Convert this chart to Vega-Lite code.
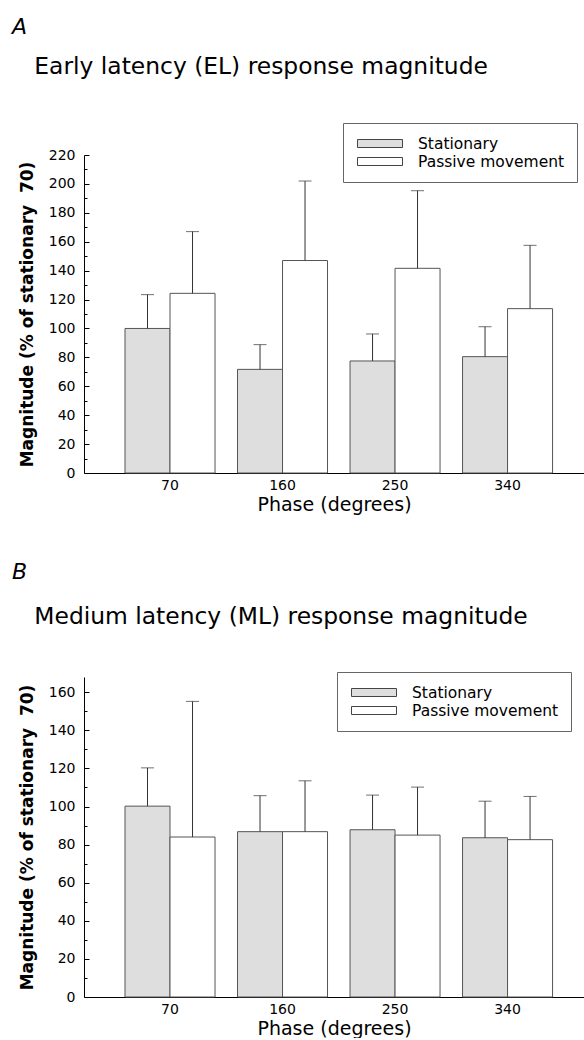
{
  "$schema": "https://vega.github.io/schema/vega-lite/v6.json",
  "padding": {"left": 12, "top": 16, "right": 0, "bottom": 0},
  "background": "white",
  "config": {
    "font": "DejaVu Sans",
    "view": {"stroke": null},
    "axis": {"grid": false, "domainColor": "#000", "tickColor": "#000", "labelColor": "#000", "titleColor": "#000", "labelFont": "DejaVu Sans", "titleFont": "DejaVu Sans", "titleFontWeight": "normal"},
    "legend": {"labelFont": "DejaVu Sans", "labelColor": "#000"}
  },
  "datasets": {
    "A": [
      {"phase": "70", "condition": "Stationary", "value": 100, "err": 123.4},
      {"phase": "70", "condition": "Passive movement", "value": 124.3, "err": 167},
      {"phase": "160", "condition": "Stationary", "value": 71.7, "err": 88.8},
      {"phase": "160", "condition": "Passive movement", "value": 147, "err": 202},
      {"phase": "250", "condition": "Stationary", "value": 77.5, "err": 96.2},
      {"phase": "250", "condition": "Passive movement", "value": 141.6, "err": 195.3},
      {"phase": "340", "condition": "Stationary", "value": 80.5, "err": 101.2},
      {"phase": "340", "condition": "Passive movement", "value": 113.7, "err": 157.5}
    ],
    "B": [
      {"phase": "70", "condition": "Stationary", "value": 100.2, "err": 120.3},
      {"phase": "70", "condition": "Passive movement", "value": 84, "err": 155.2},
      {"phase": "160", "condition": "Stationary", "value": 86.8, "err": 105.7},
      {"phase": "160", "condition": "Passive movement", "value": 86.8, "err": 113.5},
      {"phase": "250", "condition": "Stationary", "value": 87.8, "err": 106},
      {"phase": "250", "condition": "Passive movement", "value": 85, "err": 110.2},
      {"phase": "340", "condition": "Stationary", "value": 83.6, "err": 102.8},
      {"phase": "340", "condition": "Passive movement", "value": 82.6, "err": 105.3}
    ]
  },
  "spacing": 47,
  "resolve": {
    "scale": {"x": "independent", "xOffset": "independent", "y": "independent", "fill": "independent"},
    "legend": {"fill": "independent"}
  },
  "vconcat": [
    {
      "width": 500,
      "height": 318,
      "title": {"text": "A", "subtitle": "\u200b\u00a0\u00a0\u00a0Early latency (EL) response magnitude", "anchor": "start", "frame": "group", "dx": -72, "offset": 43, "font": "DejaVu Sans", "fontSize": 22, "fontStyle": "italic", "fontWeight": "normal", "color": "#000", "subtitleFont": "DejaVu Sans", "subtitleFontSize": 23.4, "subtitleColor": "#000", "subtitlePadding": 17},
      "data": {"name": "A"},
      "encoding": {
        "x": {"field": "phase", "type": "nominal", "sort": ["70", "160", "250", "340"], "scale": {"paddingInner": 0.2, "paddingOuter": 0.322, "align": 0.566}, "axis": {"title": "Phase (degrees)", "labelAngle": 0, "ticks": false, "labelFontSize": 14, "labelPadding": 5, "titleFontSize": 19, "titlePadding": 3}},
        "xOffset": {"field": "condition", "type": "nominal", "sort": ["Stationary", "Passive movement"], "scale": {"paddingInner": 0, "paddingOuter": 0}}
      },
      "resolve": {"axis": {"y": "independent"}},
      "layer": [
        {
          "mark": {"type": "bar", "stroke": "#555", "strokeWidth": 1},
          "encoding": {
            "y": {"field": "value", "type": "quantitative", "scale": {"domain": [0, 220], "nice": false}, "axis": {"orient": "left", "title": "Magnitude (% of stationary\u00a0 70)", "values": [0, 20, 40, 60, 80, 100, 120, 140, 160, 180, 200, 220], "tickSize": -5, "labelPadding": 14, "labelFontSize": 14, "titleFontSize": 17, "titleFontWeight": "bold", "titlePadding": 12}},
            "fill": {"field": "condition", "type": "nominal", "sort": ["Stationary", "Passive movement"], "scale": {"domain": ["Stationary", "Passive movement"], "range": ["#dedede", "#ffffff"]}, "legend": {"title": null, "orient": "none", "legendX": 259, "legendY": -32, "symbolType": "M-0.75,-0.5H4.875V0.5H-0.75Z", "symbolSize": 256, "symbolStrokeColor": "#444", "symbolStrokeWidth": 1, "labelFontSize": 15.5, "labelOffset": 46, "padding": 12, "strokeColor": "#666", "rowPadding": 1}}
          }
        },
        {
          "mark": {"type": "rule", "color": "#333", "strokeWidth": 1},
          "encoding": {
            "y": {"field": "value", "type": "quantitative", "axis": {"orient": "left", "values": [10, 30, 50, 70, 90, 110, 130, 150, 170, 190, 210], "labels": false, "domain": false, "title": null, "tickSize": -3}},
            "y2": {"field": "err"}
          }
        },
        {
          "mark": {"type": "tick", "orient": "horizontal", "size": 13, "thickness": 1, "color": "#333"},
          "encoding": {
            "y": {"field": "err", "type": "quantitative", "axis": null}
          }
        }
      ]
    },
    {
      "width": 500,
      "height": 320,
      "title": {"text": "B", "subtitle": "\u200b\u00a0\u00a0\u00a0Medium latency (ML) response magnitude", "anchor": "start", "frame": "group", "dx": -72, "offset": 42, "font": "DejaVu Sans", "fontSize": 22, "fontStyle": "italic", "fontWeight": "normal", "color": "#000", "subtitleFont": "DejaVu Sans", "subtitleFontSize": 23.4, "subtitleColor": "#000", "subtitlePadding": 22},
      "data": {"name": "B"},
      "encoding": {
        "x": {"field": "phase", "type": "nominal", "sort": ["70", "160", "250", "340"], "scale": {"paddingInner": 0.2, "paddingOuter": 0.322, "align": 0.566}, "axis": {"title": "Phase (degrees)", "labelAngle": 0, "ticks": false, "labelFontSize": 14, "labelPadding": 5, "titleFontSize": 19, "titlePadding": 3}},
        "xOffset": {"field": "condition", "type": "nominal", "sort": ["Stationary", "Passive movement"], "scale": {"paddingInner": 0, "paddingOuter": 0}}
      },
      "resolve": {"axis": {"y": "independent"}},
      "layer": [
        {
          "mark": {"type": "bar", "stroke": "#555", "strokeWidth": 1},
          "encoding": {
            "y": {"field": "value", "type": "quantitative", "scale": {"domain": [0, 168], "nice": false}, "axis": {"orient": "left", "title": "Magnitude (% of stationary\u00a0 70)", "values": [0, 20, 40, 60, 80, 100, 120, 140, 160], "tickSize": -5, "labelPadding": 14, "labelFontSize": 14, "titleFontSize": 17, "titleFontWeight": "bold", "titlePadding": 12}},
            "fill": {"field": "condition", "type": "nominal", "sort": ["Stationary", "Passive movement"], "scale": {"domain": ["Stationary", "Passive movement"], "range": ["#dedede", "#ffffff"]}, "legend": {"title": null, "orient": "none", "legendX": 253, "legendY": -5, "symbolType": "M-0.75,-0.5H4.875V0.5H-0.75Z", "symbolSize": 256, "symbolStrokeColor": "#444", "symbolStrokeWidth": 1, "labelFontSize": 15.5, "labelOffset": 46, "padding": 12, "strokeColor": "#666", "rowPadding": 1}}
          }
        },
        {
          "mark": {"type": "rule", "color": "#333", "strokeWidth": 1},
          "encoding": {
            "y": {"field": "value", "type": "quantitative", "axis": {"orient": "left", "values": [10, 30, 50, 70, 90, 110, 130, 150], "labels": false, "domain": false, "title": null, "tickSize": -3}},
            "y2": {"field": "err"}
          }
        },
        {
          "mark": {"type": "tick", "orient": "horizontal", "size": 13, "thickness": 1, "color": "#333"},
          "encoding": {
            "y": {"field": "err", "type": "quantitative", "axis": null}
          }
        }
      ]
    }
  ]
}
